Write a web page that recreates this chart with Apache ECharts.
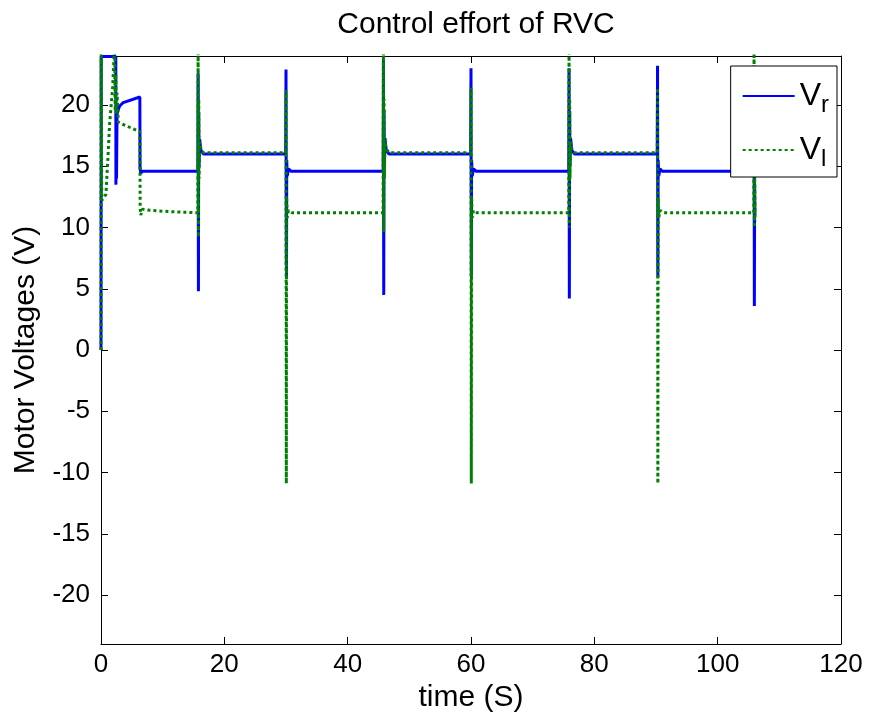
<!DOCTYPE html>
<html>
<head>
<meta charset="utf-8">
<script src="https://cdn.jsdelivr.net/npm/echarts@6/dist/echarts.min.js"></script>
<style>html,body{margin:0;padding:0;background:#fff}#c{width:875px;height:723px}</style>
</head>
<body>
<div id="c"></div>
<script>
// ---- data ----
const titleText = 'Control effort of RVC';
const xName = 'time (S)';
const yName = 'Motor Voltages (V)';
const seriesNames = ['V_r', 'V_l'];
const xTicks = [0, 20, 40, 60, 80, 100, 120];
const yTicks = [-20, -15, -10, -5, 0, 5, 10, 15, 20];

const timeR = [0, 0.03, 2.4, 2.42, 2.47, 2.52, 2.6, 3.0, 3.6, 6.3, 6.33, 6.45, 6.6, 15.7,
  15.75, 15.8, 15.85, 15.9, 16.0, 16.2, 16.6, 29.95,
  30.0, 30.05, 30.08, 30.12, 30.2, 30.4, 30.8, 45.75,
  45.8, 45.85, 45.9, 45.95, 46.05, 46.25, 46.7, 59.95,
  60.0, 60.05, 60.1, 60.2, 60.4, 60.8, 75.85,
  75.9, 75.95, 76.0, 76.05, 76.15, 76.35, 76.8, 90.2,
  90.25, 90.3, 90.35, 90.45, 90.65, 91.0, 105.85,
  105.9, 105.95, 106.0, 106.05];
const voltR = [0, 23.95, 23.95, 13.5, 19.3, 14.0, 19.3, 19.9, 20.2, 20.65, 14.9, 14.4, 14.6, 14.6,
  22.6, 4.8, 19.4, 15.0, 17.2, 16.3, 16.0, 16.0,
  22.9, 7.1, 6.0, 15.5, 14.2, 14.8, 14.6, 14.6,
  23.6, 4.5, 19.6, 15.0, 17.3, 16.3, 16.0, 16.0,
  23.0, 6.0, 15.5, 14.2, 14.8, 14.6, 14.6,
  23.0, 4.2, 19.5, 15.0, 17.3, 16.3, 16.0, 16.0,
  23.2, 6.0, 15.5, 14.2, 14.8, 14.6, 14.6,
  23.0, 3.6, 13.5, 11.0];

const timeL = [0, 0.03, 0.12, 0.8, 1.1, 1.4, 1.9, 2.2, 2.3, 2.4, 2.5, 2.6, 2.8, 6.3, 6.35, 6.45, 6.7, 8, 11, 15.7,
  15.75, 15.8, 15.85, 15.9, 16.0, 16.2, 16.6, 29.95,
  30.0, 30.05, 30.1, 30.2, 30.4, 31.0, 45.75,
  45.8, 45.85, 45.9, 45.95, 46.05, 46.25, 46.7, 59.95,
  60.0, 60.05, 60.1, 60.2, 60.4, 61.0, 75.85,
  75.9, 75.95, 76.0, 76.05, 76.15, 76.35, 76.8, 90.2,
  90.25, 90.3, 90.35, 90.45, 90.65, 91.2, 105.85,
  105.9, 105.95, 106.0, 106.05];
const voltL = [0, 25, 12.2, 12.7, 15.5, 18.5, 21.5, 25, 19.5, 22.5, 19.2, 21.0, 18.6, 17.8, 11.7, 11.0, 11.5, 11.4, 11.3, 11.2,
  25, 9.2, 20.5, 14.0, 17.0, 16.4, 16.1, 16.1,
  21.2, -10.9, 12.5, 10.8, 11.4, 11.2, 11.2,
  25, 9.6, 20.5, 14.0, 17.0, 16.4, 16.1, 16.1,
  21.4, -10.9, 12.5, 10.8, 11.4, 11.2, 11.2,
  25, 10.0, 20.5, 14.0, 17.0, 16.4, 16.1, 16.1,
  21.4, -10.9, 12.5, 10.8, 11.4, 11.2, 11.2,
  25, 10.0, 15.0, 10.5];

// ---- chart ----
const zip = (a, b) => a.map((t, i) => [t, b[i]]);
const FONT = 'Liberation Sans, Arial, sans-serif';
const FS = 26;     // tick labels
const FN = 30;     // title / axis names
const chart = echarts.init(document.getElementById('c'));
const tickBase = {show: true, inside: true, length: 7, lineStyle: {color: '#000', width: 1}};
const lineBase = {show: true, onZero: false, lineStyle: {color: '#000', width: 1}};
chart.setOption({
  animation: false,
  backgroundColor: '#fff',
  title: {
    text: titleText, left: 471, top: 5, textAlign: 'center',
    textStyle: {fontFamily: FONT, fontSize: FN, fontWeight: 'normal', color: '#000'}
  },
  grid: {left: 101, right: 34, top: 56, bottom: 79, containLabel: false},
  legend: {
    orient: 'vertical', right: 38, top: 66,
    backgroundColor: '#fff', borderColor: '#000', borderWidth: 1, borderRadius: 0,
    padding: [9, 8, 6, 11], itemWidth: 52, itemHeight: 14, itemGap: 12,
    itemStyle: {opacity: 0},
    data: seriesNames,
    formatter: n => '{v|V}{s|' + n.slice(2) + '}',
    textStyle: {
      fontFamily: FONT, color: '#000',
      rich: {
        v: {fontFamily: FONT, fontSize: 32, color: '#000', lineHeight: 36},
        s: {fontFamily: FONT, fontSize: 24, color: '#000', lineHeight: 36, padding: [18, 0, 0, 0]}
      }
    }
  },
  xAxis: [{
    type: 'value', min: xTicks[0], max: xTicks[xTicks.length - 1], interval: 20,
    name: xName, nameLocation: 'middle', nameGap: 39,
    nameTextStyle: {fontFamily: FONT, fontSize: FN, color: '#000'},
    axisLine: lineBase, axisTick: tickBase, splitLine: {show: false},
    axisLabel: {fontFamily: FONT, fontSize: FS, color: '#000', margin: 8}
  }, {
    type: 'value', position: 'top', min: xTicks[0], max: xTicks[xTicks.length - 1], interval: 20,
    axisLine: lineBase, axisTick: tickBase, splitLine: {show: false}, axisLabel: {show: false}
  }],
  yAxis: [{
    type: 'value', min: -24, max: 24,
    name: yName, nameLocation: 'middle', nameGap: 60, nameRotate: 90,
    nameTextStyle: {fontFamily: FONT, fontSize: FN, color: '#000'},
    axisLine: lineBase, axisTick: Object.assign({customValues: yTicks}, tickBase), splitLine: {show: false},
    axisLabel: {customValues: yTicks, fontFamily: FONT, fontSize: FS, color: '#000', margin: 11}
  }, {
    type: 'value', position: 'right', min: -24, max: 24,
    axisLine: lineBase, axisTick: Object.assign({customValues: yTicks}, tickBase), splitLine: {show: false},
    axisLabel: {show: false, customValues: yTicks}
  }],
  series: [{
    name: seriesNames[0], type: 'line', data: zip(timeR, voltR), symbol: 'none', clip: true,
    lineStyle: {color: '#0000ff', width: 3}, itemStyle: {color: '#0000ff'}
  }, {
    name: seriesNames[1], type: 'line', data: zip(timeL, voltL), symbol: 'none', clip: true,
    lineStyle: {color: '#008000', width: 3, type: [3, 3]}, itemStyle: {color: '#008000'}
  }]
});
</script>
</body>
</html>
